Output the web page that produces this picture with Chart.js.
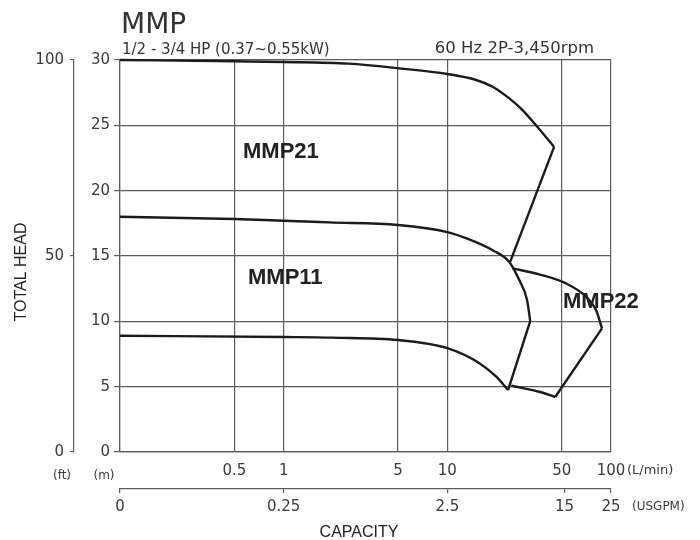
<!DOCTYPE html>
<html>
<head>
<meta charset="utf-8">
<script src="https://cdn.jsdelivr.net/npm/chart.js@4.4.0/dist/chart.umd.min.js"></script>
<style>
  html, body { margin: 0; padding: 0; background: #fff; }
</style>
</head>
<body>
<canvas id="grafico" width="700" height="540"></canvas>
<script>
// valores: vazão em L/min, altura em m
const mmp21Flow = [0.1, 0.5, 1, 2.5, 5.1, 10, 15, 18.9, 23.9, 28.8, 34.7, 44.9];
const mmp21Head = [30.0, 29.9, 29.85, 29.72, 29.36, 28.93, 28.47, 27.95, 27.06, 26.17, 25.02, 23.35];
const mmp21EdgeFlow = [44.9, 24.2];
const mmp21EdgeHead = [23.35, 14.55];

const mmp11Flow = [0.1, 0.5, 1, 1.9, 5, 10, 13.6, 18.8, 23.9, 27.5, 30.7, 32.1];
const mmp11Head = [18.0, 17.83, 17.7, 17.57, 17.37, 16.83, 16.27, 15.46, 14.54, 13.16, 11.63, 10.02];
const mmp11EdgeFlow = [32.1, 23.5];
const mmp11EdgeHead = [10.02, 4.74];

const lowFlow = [0.1, 1, 2, 5, 10, 15.7, 19.9, 23.5];
const lowHead = [8.9, 8.8, 8.75, 8.57, 7.95, 6.8, 5.76, 4.74];

const mmp22TopFlow = [25.0, 36.4, 53.2, 70.5, 81, 88.1];
const mmp22TopHead = [14.05, 13.6, 12.9, 11.88, 10.86, 9.46];
const mmp22EdgeFlow = [88.1, 45.6];
const mmp22EdgeHead = [9.46, 4.21];
const mmp22BottomFlow = [24.6, 36.4, 45.6];
const mmp22BottomHead = [5.07, 4.61, 4.21];

// eixos
const flowTicks = [0.1, 0.5, 1, 5, 10, 50, 100];
const flowTickLabels = ['', '0.5', '1', '5', '10', '50', '100'];
const usgpmTickFlows = [0.1, 1, 10, 52, 100];
const usgpmTickLabels = ['0', '0.25', '2.5', '15', '25'];
const feetTicks = [0, 50, 100];

const corLinha = '#1b1b1b';
const corGrade = '#5c5c5c';
const corTexto = '#3a3a3a';

function curva(flow, head, suave) {
  return {
    data: flow.map((q, i) => ({ x: q, y: head[i] })),
    borderColor: corLinha,
    borderWidth: 2.4,
    pointRadius: 0,
    fill: false,
    tension: suave ? 0.4 : 0,
    cubicInterpolationMode: suave ? 'monotone' : 'default',
    clip: 4,
    xAxisID: 'x',
    yAxisID: 'y'
  };
}

const textos = {
  id: 'textos',
  afterDraw(chart) {
    const ctx = chart.ctx;
    ctx.save();
    ctx.fillStyle = '#333';
    ctx.textBaseline = 'alphabetic';
    ctx.textAlign = 'left';
    ctx.font = '28px "DejaVu Sans"';
    ctx.fillText('MMP', 121, 33);
    ctx.font = '15px "DejaVu Sans"';
    ctx.fillText('1/2 - 3/4 HP (0.37~0.55kW)', 122, 54);
    ctx.textAlign = 'right';
    ctx.font = '16.5px "DejaVu Sans"';
    ctx.fillText('60 Hz 2P-3,450rpm', 594, 53);

    // nomes dos modelos
    ctx.fillStyle = '#222';
    ctx.textAlign = 'left';
    ctx.font = 'bold 22px "Liberation Sans"';
    ctx.fillText('MMP21', 243, 158);
    ctx.fillText('MMP11', 248, 284);
    ctx.fillText('MMP22', 563, 308);

    // unidades
    ctx.fillStyle = corTexto;
    ctx.textBaseline = 'middle';
    ctx.textAlign = 'center';
    ctx.font = '12px "DejaVu Sans"';
    ctx.fillText('(ft)', 62, 476);
    ctx.fillText('(m)', 104, 476);
    ctx.textAlign = 'left';
    ctx.font = '13px "DejaVu Sans"';
    ctx.fillText('(L/min)', 627, 471);
    ctx.font = '12px "DejaVu Sans"';
    ctx.fillText('(USGPM)', 632, 507);

    // títulos dos eixos
    ctx.fillStyle = '#222';
    ctx.textBaseline = 'alphabetic';
    ctx.textAlign = 'center';
    ctx.font = '16px "Liberation Sans"';
    ctx.fillText('CAPACITY', 359, 537);
    ctx.translate(26, 272);
    ctx.rotate(-Math.PI / 2);
    ctx.fillText('TOTAL HEAD', 0, 0);
    ctx.restore();
  }
};

const fonteTick = { family: 'DejaVu Sans', size: 15 };

new Chart(document.getElementById('grafico'), {
  type: 'line',
  data: {
    datasets: [
      curva(mmp21Flow, mmp21Head, true),
      curva(mmp21EdgeFlow, mmp21EdgeHead, false),
      curva(mmp11Flow, mmp11Head, true),
      curva(mmp11EdgeFlow, mmp11EdgeHead, false),
      curva(lowFlow, lowHead, true),
      curva(mmp22TopFlow, mmp22TopHead, true),
      curva(mmp22EdgeFlow, mmp22EdgeHead, false),
      curva(mmp22BottomFlow, mmp22BottomHead, true)
    ]
  },
  options: {
    responsive: false,
    animation: false,
    devicePixelRatio: 1,
    events: [],
    layout: { padding: { left: 0, right: 89, top: 60, bottom: 0 } },
    plugins: {
      legend: { display: false },
      tooltip: { enabled: false },
      title: { display: false }
    },
    scales: {
      x: {
        type: 'logarithmic',
        position: 'bottom',
        weight: 0,
        min: 0.1,
        max: 100,
        afterBuildTicks: s => { s.ticks = flowTicks.map(v => ({ value: v })); },
        afterFit: s => { s.height = 37; },
        grid: { color: corGrade, lineWidth: 1.2, drawTicks: false },
        border: { color: corGrade, width: 1.2 },
        ticks: {
          autoSkip: false, maxRotation: 0, minRotation: 0, padding: 10,
          color: corTexto, font: fonteTick,
          callback: (v, i) => flowTickLabels[i]
        }
      },
      xg: {
        type: 'logarithmic',
        position: 'bottom',
        weight: 1,
        min: 0.1,
        max: 100,
        afterBuildTicks: s => { s.ticks = usgpmTickFlows.map(v => ({ value: v })); },
        afterFit: s => { s.height = 51; },
        grid: { drawOnChartArea: false, tickLength: 4, color: corGrade, lineWidth: 1.2 },
        border: { color: corGrade, width: 1.2 },
        ticks: {
          autoSkip: false, maxRotation: 0, minRotation: 0, padding: 5,
          color: corTexto, font: fonteTick,
          callback: (v, i) => usgpmTickLabels[i]
        }
      },
      y: {
        type: 'linear',
        position: 'left',
        weight: 0,
        min: 0,
        max: 30,
        afterFit: s => { s.width = 46; },
        grid: { color: corGrade, lineWidth: 1.2, tickLength: 6 },
        border: { color: corGrade, width: 1.2 },
        ticks: { stepSize: 5, padding: 4, color: corTexto, font: fonteTick }
      },
      yft: {
        type: 'linear',
        position: 'left',
        weight: 1,
        min: 0,
        max: 100,
        afterBuildTicks: s => { s.ticks = feetTicks.map(v => ({ value: v })); },
        afterFit: s => { s.width = 74; },
        grid: { drawOnChartArea: false, tickLength: 4, color: corGrade, lineWidth: 1.2 },
        border: { color: corGrade, width: 1.2 },
        ticks: { padding: 6, color: corTexto, font: fonteTick }
      }
    }
  },
  plugins: [textos]
});
</script>
</body>
</html>
